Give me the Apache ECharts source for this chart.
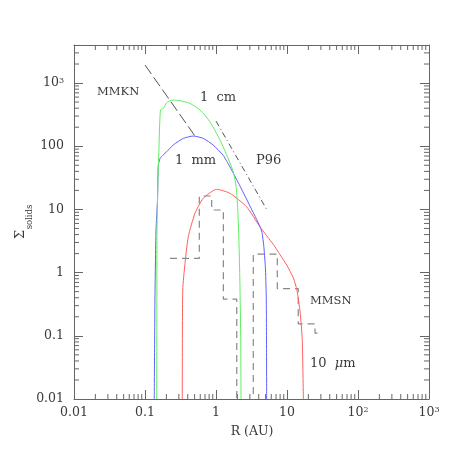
<!DOCTYPE html>
<html>
<head>
<meta charset="utf-8">
<script src="https://cdn.jsdelivr.net/npm/echarts@6/dist/echarts.min.js"></script>
<style>html,body{margin:0;padding:0;background:#fff}#c{width:458px;height:458px}</style>
</head>
<body>
<div id="c"></div>
<script>
// ---- data (R in AU, Sigma_solids) ----
const cmR = [0.146, 0.147, 0.1476, 0.152, 0.157, 0.165, 0.181, 0.202, 0.225, 0.251, 0.311, 0.43, 0.596, 0.822, 1.14, 1.476, 1.754, 1.915, 2.01, 2.075, 2.13, 2.18, 2.23, 2.25];
const cmS = [0.01, 0.4, 4.7, 29, 87, 374, 398, 488, 525, 538, 525, 477, 374, 244, 125, 65, 39.1, 23.4, 11.7, 5.08, 1.9, 0.53, 0.086, 0.01];
const mmR = [0.135, 0.138, 0.143, 0.150, 0.154, 0.163, 0.181, 0.202, 0.251, 0.346, 0.479, 0.662, 0.916, 1.268, 1.66, 2.18, 3.01, 3.74, 4.40, 4.74, 4.98, 5.11, 5.17];
const mmS = [0.01, 0.37, 4.7, 14, 50, 64, 73, 82, 105, 133, 145, 133, 104, 71.3, 42, 23.4, 11.3, 6.92, 4.55, 2.45, 1.1, 0.37, 0.01];
const umR = [0.335, 0.34, 0.366, 0.407, 0.506, 0.662, 1.02, 1.57, 2.70, 4.17, 6.42, 7.96, 9.91, 12.3, 13.8, 15.3, 16.4, 17.0];
const umS = [0.01, 0.53, 1.4, 3.7, 8.7, 15, 20.8, 18, 11, 5.27, 2.79, 1.93, 1.32, 0.82, 0.53, 0.238, 0.086, 0.01];
const mmknR = [0.1, 0.506];
const mmknS = [1930, 145];
const p96R = [1.0, 5.17];
const p96S = [250, 10];
const mmsnEdges = [0.225, 0.582, 0.869, 1.27, 1.96, 3.35, 7.3, 14.4, 24.8, 30.8];
const mmsnLevels = [1.68, 16.3, 9.8, 0.38, 0.001, 1.96, 0.56, 0.154, 0.11];
const xTickLabels = ['0.01', '0.1', '1', '10', '10{sup|2}', '10{sup|3}'];
const yTickLabels = ['0.01', '0.1', '1', '10', '100', '10{sup|3}'];
const xMin = 0.01, xMax = 1000, yMin = 0.01, yMax = 4000;

const zip = (a, b) => a.map((v, i) => [v, b[i]]);
const mmsnData = mmsnLevels.map((l, i) => [mmsnEdges[i], l]);
mmsnData.push([mmsnEdges[mmsnEdges.length - 1], mmsnLevels[mmsnLevels.length - 1]]);

// minor tick positions
const minorTicks = [];
for (let k = -2; k <= 2; k++) for (let m = 2; m <= 9; m++) minorTicks.push([m * Math.pow(10, k), 1, 0]);
for (let k = -2; k <= 3; k++) for (let m = 2; m <= 9; m++) { const v = m * Math.pow(10, k); if (v < yMax) minorTicks.push([1, v, 1]); }

const axisCol = '#666';
const txtCol = '#3a3a3a';
const tickFont = 'DejaVu Serif';
const rich = { sup: { fontSize: 8, fontFamily: tickFont, color: txtCol, verticalAlign: 'top', lineHeight: 9 } };
function fmt(labels, base) {
  return function (v) {
    const l = Math.log10(v), e = Math.round(l);
    if (Math.abs(l - e) > 1e-6) return '';
    const idx = e - base;
    return labels[idx] !== undefined ? labels[idx] : '';
  };
}
const commonAxis = {
  type: 'log', logBase: 10,
  axisLine: { show: true, lineStyle: { color: axisCol, width: 1 } },
  axisTick: { show: true, inside: true, length: 9, lineStyle: { color: axisCol, width: 1 } },
  splitLine: { show: false }, minorTick: { show: false }
};
const curveCommon = { type: 'line', showSymbol: false, symbol: 'none', clip: true, smooth: 0.2 };
const chart = echarts.init(document.getElementById('c'), null, { renderer: 'canvas' });
const option = {
  animation: false,
  backgroundColor: '#fff',
  grid: { left: 74, top: 45, right: 29, bottom: 59, containLabel: false },
  xAxis: [
    Object.assign({}, commonAxis, { position: 'bottom', min: xMin, max: xMax,
      axisLabel: { show: true, margin: 7, fontFamily: tickFont, fontSize: 12.5, color: txtCol, formatter: fmt(xTickLabels, -2), rich: rich, showMaxLabel: true } }),
    Object.assign({}, commonAxis, { position: 'top', min: xMin, max: xMax, axisLabel: { show: false } })
  ],
  yAxis: [
    Object.assign({}, commonAxis, { position: 'left', min: yMin, max: yMax,
      axisLabel: { show: true, margin: 10, fontFamily: tickFont, fontSize: 12.5, color: txtCol, formatter: fmt(yTickLabels, -2), rich: rich } }),
    Object.assign({}, commonAxis, { position: 'right', min: yMin, max: yMax, axisLabel: { show: false } })
  ],
  series: [
    { type: 'custom', silent: true, data: minorTicks, encode: { x: 0, y: 1 }, clip: false, z: 1,
      renderItem: function (params, api) {
        const kind = api.value(2);
        const st = { stroke: axisCol, lineWidth: 1 };
        if (kind === 0) {
          const v = api.value(0);
          const a = api.coord([v, yMin]), b = api.coord([v, yMax]);
          return { type: 'group', children: [
            { type: 'line', shape: { x1: a[0], y1: a[1], x2: a[0], y2: a[1] - 5 }, style: st },
            { type: 'line', shape: { x1: b[0], y1: b[1], x2: b[0], y2: b[1] + 5 }, style: st } ] };
        } else {
          const v = api.value(1);
          const a = api.coord([xMin, v]), b = api.coord([xMax, v]);
          return { type: 'group', children: [
            { type: 'line', shape: { x1: a[0], y1: a[1], x2: a[0] + 5, y2: a[1] }, style: st },
            { type: 'line', shape: { x1: b[0], y1: b[1], x2: b[0] - 5, y2: b[1] }, style: st } ] };
        }
      } },
    { name: 'MMSN', type: 'line', data: mmsnData, step: 'end', showSymbol: false, symbol: 'none', clip: true,
      lineStyle: { color: '#888', width: 1.2, type: [7, 5] } },
    { name: 'MMKN', type: 'line', data: zip(mmknR, mmknS), showSymbol: false, symbol: 'none',
      lineStyle: { color: '#555', width: 1, type: [11, 4] } },
    { name: 'P96', type: 'line', data: zip(p96R, p96S), showSymbol: false, symbol: 'none',
      lineStyle: { color: '#555', width: 1, type: [6, 3, 1, 3] } },
    Object.assign({ name: '10 um', data: zip(umR, umS), lineStyle: { color: '#ff5f5f', width: 1 } }, curveCommon),
    Object.assign({ name: '1 mm', data: zip(mmR, mmS), lineStyle: { color: '#5f5fff', width: 1 } }, curveCommon),
    Object.assign({ name: '1 cm', data: zip(cmR, cmS), lineStyle: { color: '#5fee5f', width: 1 } }, curveCommon)
  ],
  graphic: [
    { type: 'text', x: 97, y: 92, style: { text: 'MMKN', font: '11.5px "DejaVu Serif"', fill: txtCol, align: 'left', verticalAlign: 'middle' } },
    { type: 'text', x: 200, y: 98, style: { text: '1  cm', font: '13px "DejaVu Serif"', fill: txtCol, align: 'left', verticalAlign: 'middle' } },
    { type: 'text', x: 175, y: 161, style: { text: '1  mm', font: '13px "DejaVu Serif"', fill: txtCol, align: 'left', verticalAlign: 'middle' } },
    { type: 'text', x: 256, y: 161, style: { text: 'P96', font: '13px "DejaVu Serif"', fill: txtCol, align: 'left', verticalAlign: 'middle' } },
    { type: 'text', x: 310, y: 301, style: { text: 'MMSN', font: '11.5px "DejaVu Serif"', fill: txtCol, align: 'left', verticalAlign: 'middle' } },
    { type: 'text', x: 310, y: 364, style: { text: '10  {i|μ}m', font: '13px "DejaVu Serif"', fill: txtCol, align: 'left', verticalAlign: 'middle',
      rich: { i: { fontStyle: 'italic', fontFamily: 'DejaVu Serif', fontSize: 13, fill: txtCol } } } },
    { type: 'text', x: 252, y: 432, style: { text: 'R (AU)', font: '12.5px "DejaVu Serif"', fill: txtCol, align: 'center', verticalAlign: 'middle' } },
    { type: 'text', x: 21, y: 234.5, rotation: Math.PI / 2, style: { text: 'Σ', font: '13px "DejaVu Serif"', fill: txtCol, align: 'center', verticalAlign: 'middle' } },
    { type: 'text', x: 30, y: 217, rotation: Math.PI / 2, style: { text: 'solids', font: '8.5px "DejaVu Serif"', fill: txtCol, align: 'center', verticalAlign: 'middle' } }
  ]
};
chart.setOption(option);
</script>
</body>
</html>
